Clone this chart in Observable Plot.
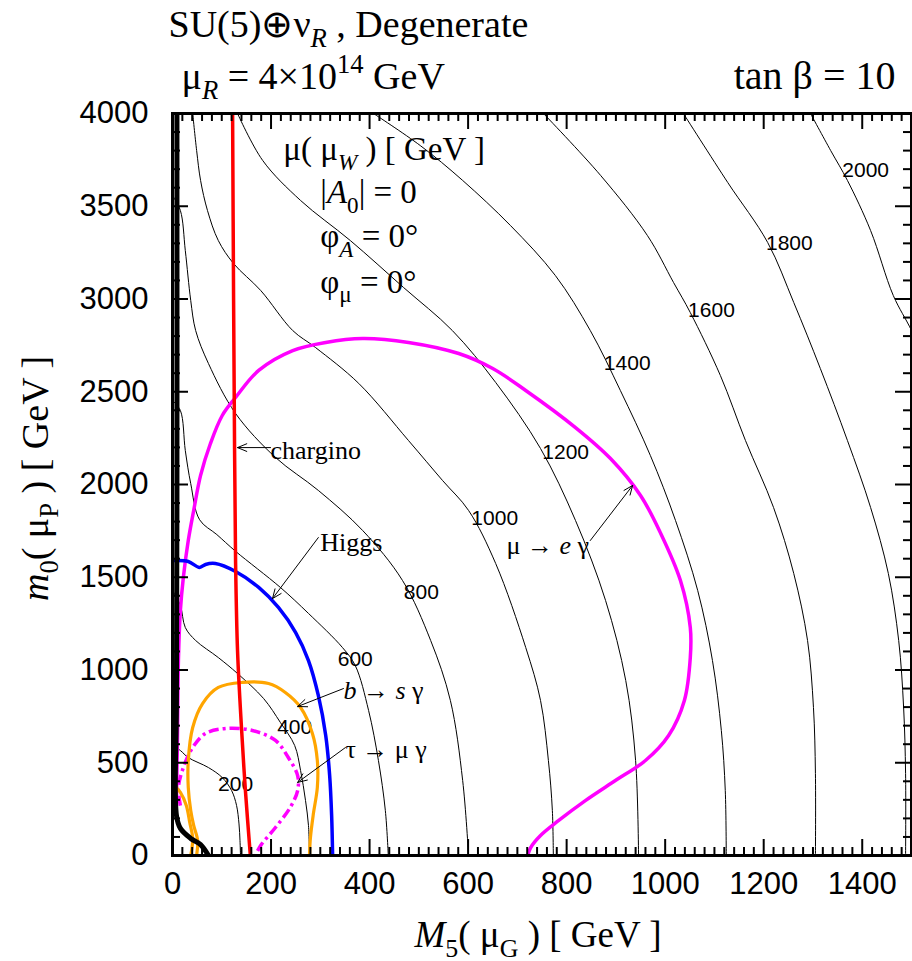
<!DOCTYPE html>
<html><head><meta charset="utf-8">
<script src="https://cdn.jsdelivr.net/npm/d3@7"></script>
<script src="https://cdn.jsdelivr.net/npm/@observablehq/plot@0.6"></script>
<style>body{margin:0;background:#fff}</style>
</head><body><div id="chart"></div>
<script>
// ---------- data (M5 [GeV], m0 [GeV]) ----------
const contourLevels = [200, 400, 600, 800, 1000, 1200, 1400, 1600, 1800, 2000];
const contour200 = [[0,595],[16,566],[32,528],[73,474],[101,420],[120,350],[130,270],[135,170],[137,80],[138,0]];
const contour400 = [[0,1429],[16,1348],[26,1229],[47,1159],[93,1067],[132,981],[185,846],[219,717],[248,593],[260,458],[270,296],[276,162],[278,0]];
const contour600 = [[0,2453],[16,2399],[26,2183],[37,2005],[55,1810],[90,1730],[128,1640],[219,1445],[276,1305],[345,1121],[371,1024],[398,782],[418,512],[432,243],[438,0]];
const contour800 = [[0,3558],[16,3477],[26,3261],[37,2992],[47,2830],[73,2652],[128,2383],[209,2146],[296,1968],[386,1752],[467,1482],[524,1159],[564,836],[589,404],[601,0]];
const contour1000 = [[41,4000],[49,3800],[57,3639],[71,3477],[93,3315],[124,3191],[179,3046],[244,2830],[290,2739],[378,2545],[479,2237],[548,2022],[601,1860],[656,1574],[717,1121],[747,836],[763,512],[771,243],[773,0]];
const contour1200 = [[132,4000],[183,3747],[260,3531],[361,3315],[469,3062],[568,2830],[656,2550],[747,2194],[818,1806],[879,1375],[920,943],[940,512],[946,0]];
const contour1400 = [[408,4000],[503,3827],[589,3639],[686,3396],[777,3127],[848,2830],[909,2507],[970,2156],[1021,1806],[1066,1429],[1096,1051],[1114,674],[1122,350],[1124,0]];
const contour1600 = [[753,4000],[869,3666],[964,3342],[1017,3089],[1051,2927],[1112,2588],[1163,2237],[1220,1876],[1261,1520],[1289,1159],[1301,798],[1305,442],[1305,0]];
const contour1800 = [[1037,4000],[1127,3628],[1208,3305],[1261,2981],[1315,2625],[1370,2237],[1417,1876],[1453,1520],[1474,1159],[1484,798],[1488,442],[1488,0]];
const contour2000 = [[1295,4000],[1336,3800],[1370,3639],[1417,3369],[1463,3019],[1500,2830],[1530,2640]];
const contourCurves = [contour200, contour400, contour600, contour800, contour1000, contour1200, contour1400, contour1600, contour1800, contour2000];
const contourLabelX = [128, 248, 371, 505, 654, 798, 923, 1094, 1252, 1407];
const contourLabelY = [383, 690, 1057, 1418, 1817, 2173, 2652, 2938, 3299, 3693];

const charginoBound = [[122,4000],[124,2992],[126,2183],[128,1590],[132,1105],[140,690],[148,350],[158,0]];
const higgsBound = [[0,1590],[6,1590],[32,1585],[55,1553],[67,1569],[87,1574],[128,1531],[175,1445],[215,1337],[250,1202],[276,1051],[296,863],[311,647],[319,431],[323,216],[325,0]];
const muEGamma = [[8,296],[10,620],[12,1051],[16,1321],[22,1499],[32,1698],[43,1860],[57,2049],[77,2221],[101,2372],[128,2469],[175,2615],[244,2722],[311,2766],[386,2787],[479,2766],[581,2706],[650,2625],[717,2507],[818,2307],[889,2140],[950,1941],[991,1736],[1031,1482],[1051,1229],[1051,1067],[1039,836],[1007,647],[960,512],[899,404],[838,296],[784,189],[747,108],[727,43],[721,0]];
const tauMuGamma = [[16,269],[12,366],[22,474],[41,582],[67,658],[108,685],[162,674],[209,620],[235,528],[254,431],[254,350],[239,259],[209,151],[179,54],[168,0]];
const bsGamma = [[49,0],[51,81],[43,162],[37,243],[32,367],[32,512],[41,690],[61,819],[93,906],[142,933],[195,927],[229,879],[260,798],[284,658],[294,512],[294,367],[286,226],[280,97],[278,0]];
const bsGammaSmall = [[4,377],[16,340],[28,270],[35,178],[41,92],[37,0]];
const blackBound = [[9,4000],[9,1900],[8,830],[8,216],[16,146],[37,92],[57,59],[73,0]];

const xMajor = [0, 200, 400, 600, 800, 1000, 1200, 1400];
const yMajor = [0, 500, 1000, 1500, 2000, 2500, 3000, 3500, 4000];
const xMinor = d3.range(20, 1500, 20).filter(v => v % 200 !== 0);
const yMinor = d3.range(100, 4000, 100).filter(v => v % 500 !== 0);

const annotTexts = ["μ( μ_{*W*} ) [ GeV ]", "|*A*_{0}| = 0", "φ_{*A*} = 0°", "φ_{μ} = 0°"];
const annotX = [225, 300, 300, 300];
const annotY = [3747, 3515, 3278, 3035];

const curveLabels = ["chargino", "Higgs", "μ → *e* γ", "*b* → *s* γ", "τ → μ γ"];
const curveLabelX = [199, 300, 678, 347, 351];
const curveLabelY = [2140, 1639, 1628, 841, 528];

const arrowX1 = [199, 296, 848, 347, 351];
const arrowY1 = [2199, 1714, 1698, 900, 582];
const arrowX2 = [132, 203, 934, 254, 254];
const arrowY2 = [2199, 1385, 1995, 803, 394];

const titleLine1 = "SU(5)⊕ν_{*R*} , Degenerate";
const titleLine2 = "μ_{*R*} = 4×10^{14} GeV";
const titleRight = "tan β = 10";
const xTitle = "*M*_{5}( μ_{G} ) [ GeV ]";
const yTitle = "*m*_{0}( μ_{P} ) [ GeV ]";

// ---------- layout ----------
const SERIF = "'Liberation Serif','Times New Roman',serif";
const SANS = "'Liberation Sans',Arial,sans-serif";
const W = 912, H = 961, ML = 172, MR = 1, MT = 113, MB = 106;
const PW = W - ML - MR, PH = H - MT - MB;

const lineOpts = {x: d => d[0], y: d => d[1], curve: "catmull-rom", clip: true, fill: "none"};

const marks = [];
contourCurves.forEach(c => marks.push(Plot.line(c, {...lineOpts, stroke: "black", strokeWidth: 1})));
marks.push(Plot.text(contourLevels, {x: (d, i) => contourLabelX[i], y: (d, i) => contourLabelY[i], text: d => String(d), fontSize: 21, fontFamily: SANS, fill: "black"}));
marks.push(Plot.line(muEGamma, {...lineOpts, stroke: "#ff00ff", strokeWidth: 3.5}));
marks.push(Plot.line(tauMuGamma, {...lineOpts, stroke: "#ff00ff", strokeWidth: 3.5, strokeDasharray: "10,4,3,4", strokeLinecap: "butt"}));
marks.push(Plot.line(bsGamma, {...lineOpts, stroke: "#ffa500", strokeWidth: 3.2}));
marks.push(Plot.line(bsGammaSmall, {...lineOpts, stroke: "#ffa500", strokeWidth: 3.2}));
marks.push(Plot.line(higgsBound, {...lineOpts, stroke: "#0000ff", strokeWidth: 3.5}));
marks.push(Plot.line(charginoBound, {...lineOpts, stroke: "#ff0000", strokeWidth: 3.5}));
marks.push(Plot.line(blackBound, {...lineOpts, stroke: "black", strokeWidth: 5}));
marks.push(Plot.arrow(arrowX1, {x1: (d, i) => arrowX1[i], y1: (d, i) => arrowY1[i], x2: (d, i) => arrowX2[i], y2: (d, i) => arrowY2[i], stroke: "black", strokeWidth: 1, headLength: 15, headAngle: 45}));
marks.push(Plot.text(curveLabels, {x: (d, i) => curveLabelX[i], y: (d, i) => curveLabelY[i], text: d => d, textAnchor: "start", lineAnchor: "bottom", fontSize: 26, fontFamily: SERIF, fill: "black"}));
marks.push(Plot.text(annotTexts, {x: (d, i) => annotX[i], y: (d, i) => annotY[i], text: d => d, textAnchor: "start", lineAnchor: "bottom", fontSize: 33, fontFamily: SERIF, fill: "black"}));
// ticks (inward, mirrored)
marks.push(Plot.ruleX(xMajor, {x: d => d, insetTop: PH - 16, strokeWidth: 2}));
marks.push(Plot.ruleX(xMajor, {x: d => d, insetBottom: PH - 16, strokeWidth: 2}));
marks.push(Plot.ruleX(xMinor, {x: d => d, insetTop: PH - 8, strokeWidth: 2}));
marks.push(Plot.ruleX(xMinor, {x: d => d, insetBottom: PH - 8, strokeWidth: 2}));
marks.push(Plot.ruleY(yMajor, {y: d => d, insetRight: PW - 16, strokeWidth: 2}));
marks.push(Plot.ruleY(yMajor, {y: d => d, insetLeft: PW - 16, strokeWidth: 2}));
marks.push(Plot.ruleY(yMinor, {y: d => d, insetRight: PW - 8, strokeWidth: 2}));
marks.push(Plot.ruleY(yMinor, {y: d => d, insetLeft: PW - 8, strokeWidth: 2}));
marks.push(Plot.frame({stroke: "black", strokeWidth: 3}));
// tick labels
marks.push(Plot.text(xMajor, {x: d => d, text: d => String(d), frameAnchor: "bottom", dy: 16, lineAnchor: "top", fontSize: 31, fontFamily: SANS, fill: "black"}));
marks.push(Plot.text(yMajor, {y: d => d, text: d => String(d), frameAnchor: "left", dx: -24, textAnchor: "end", fontSize: 31, fontFamily: SANS, fill: "black"}));
// axis titles
marks.push(Plot.text([xTitle], {frameAnchor: "bottom", dx: -4, dy: 91, textAnchor: "middle", lineAnchor: "bottom", text: d => d, fontSize: 37, fontFamily: SERIF, fill: "black"}));
marks.push(Plot.text([yTitle], {frameAnchor: "left", dx: -125, dy: -6, rotate: -90, textAnchor: "middle", lineAnchor: "bottom", text: d => d, fontSize: 38, fontFamily: SERIF, fill: "black"}));
// header
marks.push(Plot.text([titleLine1], {frameAnchor: "top-left", dx: -4, dy: -77, textAnchor: "start", lineAnchor: "bottom", text: d => d, fontSize: 38, fontFamily: SERIF, fill: "black"}));
marks.push(Plot.text([titleLine2], {frameAnchor: "top-left", dx: 9, dy: -25, textAnchor: "start", lineAnchor: "bottom", text: d => d, fontSize: 38, fontFamily: SERIF, fill: "black"}));
marks.push(Plot.text([titleRight], {frameAnchor: "top-right", dx: -16, dy: -25, textAnchor: "end", lineAnchor: "bottom", text: d => d, fontSize: 40, fontFamily: SERIF, fill: "black"}));

const chart = Plot.plot({
  width: W, height: H,
  marginLeft: ML, marginRight: MR, marginTop: MT, marginBottom: MB,
  x: {domain: [0, 1500], axis: null},
  y: {domain: [0, 4000], axis: null},
  style: {background: "white", color: "black", overflow: "visible"},
  marks
});
document.getElementById("chart").appendChild(chart);

// ---------- rich text: _{sub} ^{sup} *italic* ----------
function richify(svg) {
  const NS = "http://www.w3.org/2000/svg";
  svg.querySelectorAll("text").forEach(t => {
    const s = t.textContent;
    if (!/(_\{|\^\{|\*)/.test(s)) return;
    const fs = parseFloat(getComputedStyle(t).fontSize) || 16;
    const segs = [];
    let italic = false, level = 0, buf = "";
    const stack = [];
    const push = () => { if (buf) segs.push({text: buf, italic, level}); buf = ""; };
    for (let i = 0; i < s.length; i++) {
      const c = s[i];
      if ((c === "_" || c === "^") && s[i + 1] === "{") { push(); stack.push(level); level = c === "_" ? -1 : 1; i++; }
      else if (c === "}" && stack.length) { push(); level = stack.pop(); }
      else if (c === "*") { push(); italic = !italic; }
      else buf += c;
    }
    push();
    t.textContent = "";
    t.style.whiteSpace = "pre";
    let cur = 0;
    for (const sg of segs) {
      const ts = document.createElementNS(NS, "tspan");
      const target = sg.level === -1 ? fs * 0.28 : sg.level === 1 ? -fs * 0.4 : 0;
      ts.setAttribute("dy", (target - cur).toFixed(2));
      cur = target;
      if (sg.level !== 0) ts.setAttribute("font-size", (fs * 0.7).toFixed(1));
      if (sg.italic) ts.setAttribute("font-style", "italic");
      ts.textContent = sg.text;
      t.appendChild(ts);
    }
  });
}
richify(chart);
</script></body></html>
